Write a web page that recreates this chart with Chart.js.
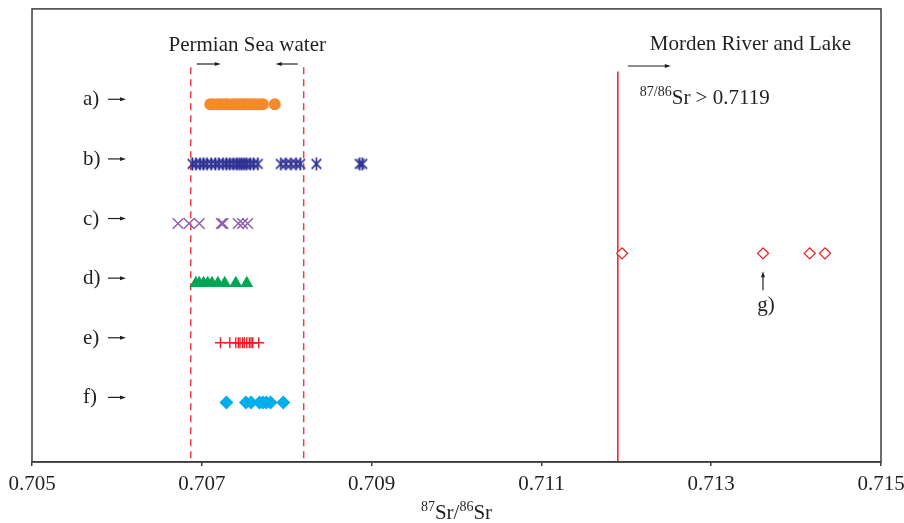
<!DOCTYPE html>
<html>
<head>
<meta charset="utf-8">
<script src="https://cdn.jsdelivr.net/npm/chart.js@4/dist/chart.umd.min.js"></script>
<style>
  html, body { margin: 0; padding: 0; background: #fff; }
  #wrap { width: 904px; height: 523px; }
</style>
</head>
<body>
<div id="wrap"><canvas id="srChart"></canvas></div>
<script>
// 87Sr/86Sr ratios for each sample group
const groupA = [0.70710, 0.70714, 0.70719, 0.70723, 0.70728, 0.70731, 0.70736, 0.70740, 0.70744, 0.70748, 0.70751, 0.70755, 0.70759, 0.70763, 0.70768, 0.70772, 0.70786];
const groupB = [0.70689, 0.70693, 0.70698, 0.70702, 0.70706, 0.70711, 0.70716, 0.70720, 0.70725, 0.70729, 0.70733, 0.70737, 0.70741, 0.70744, 0.70747, 0.70750, 0.70753, 0.70757, 0.70761, 0.70766, 0.70793, 0.70799, 0.70805, 0.70811, 0.70816, 0.70835, 0.70886, 0.70889];
const groupC = [0.70672, 0.70685, 0.70697, 0.70723, 0.70725, 0.70743, 0.70748, 0.70754];
const groupD = [0.70693, 0.70697, 0.70702, 0.70707, 0.70712, 0.70719, 0.70727, 0.70740, 0.70753];
const groupE = [0.70722, 0.70733, 0.70740, 0.70743, 0.70745, 0.70748, 0.70750, 0.70753, 0.70756, 0.70758, 0.70760, 0.70767];
const groupF = [0.70729, 0.70752, 0.70758, 0.70768, 0.70772, 0.70776, 0.70781, 0.70796];
const groupG = [0.71195, 0.71361, 0.71416, 0.71434];

const rowLabels = ["a)", "b)", "c)", "d)", "e)", "f)"];
const rowLevels = [6, 5, 4, 3, 2, 1];
const groupGLevel = 3.5;

const permianLow = 0.70687;
const permianHigh = 0.7082;
const mordenLimit = 0.7119;
const xTicks = [0.705, 0.707, 0.709, 0.711, 0.713, 0.715];

const SERIF = "'Liberation Serif', 'Times New Roman', serif";
Chart.defaults.font.family = SERIF;

// six-armed asterisk used for group b
function asteriskIcon(color, r) {
  const s = Math.ceil(r * 2 + 2);
  const c = document.createElement("canvas");
  c.width = s; c.height = s;
  const g = c.getContext("2d");
  const m = s / 2, d = r * 0.74;
  g.strokeStyle = color;
  g.lineWidth = 1.6;
  g.beginPath();
  g.moveTo(m, m - r); g.lineTo(m, m + r);
  g.moveTo(m - d, m - d); g.lineTo(m + d, m + d);
  g.moveTo(m - d, m + d); g.lineTo(m + d, m - d);
  g.stroke();
  return c;
}

const toPoints = (vals, level) => vals.map(v => ({ x: v, y: level }));

function arrow(ctx, x1, y1, x2, y2) {
  const a = Math.atan2(y2 - y1, x2 - x1);
  ctx.beginPath();
  ctx.moveTo(x1, y1);
  ctx.lineTo(x2 - Math.cos(a) * 4, y2 - Math.sin(a) * 4);
  ctx.stroke();
  ctx.beginPath();
  ctx.moveTo(x2, y2);
  ctx.lineTo(x2 - Math.cos(a) * 6 - Math.sin(a) * 2, y2 - Math.sin(a) * 6 + Math.cos(a) * 2);
  ctx.lineTo(x2 - Math.cos(a) * 6 + Math.sin(a) * 2, y2 - Math.sin(a) * 6 - Math.cos(a) * 2);
  ctx.closePath();
  ctx.fill();
}

// draws "base" text with a leading superscript, returns end x
function supText(ctx, x, y, sup, base) {
  ctx.font = "14px " + SERIF;
  ctx.fillText(sup, x, y - 8);
  x += ctx.measureText(sup).width;
  ctx.font = "21px " + SERIF;
  ctx.fillText(base, x, y);
  return x + ctx.measureText(base).width;
}

const annotations = {
  id: "annotations",
  beforeDatasetsDraw(chart) {
    const { ctx, scales: { x, y }, chartArea } = chart;
    ctx.save();
    ctx.lineWidth = 1.5;
    ctx.strokeStyle = "#e8414e";
    ctx.setLineDash([7, 5]);
    [permianLow, permianHigh].forEach(v => {
      const px = x.getPixelForValue(v);
      ctx.beginPath();
      ctx.moveTo(px, y.getPixelForValue(6.62));
      ctx.lineTo(px, chartArea.bottom);
      ctx.stroke();
    });
    ctx.setLineDash([]);
    ctx.strokeStyle = "#ed1c24";
    const mx = x.getPixelForValue(mordenLimit);
    ctx.beginPath();
    ctx.moveTo(mx, y.getPixelForValue(6.55));
    ctx.lineTo(mx, chartArea.bottom);
    ctx.stroke();
    ctx.restore();
  },
  afterDatasetsDraw(chart) {
    const { ctx, scales: { x, y }, chartArea } = chart;
    ctx.save();
    ctx.fillStyle = "#231f20";
    ctx.strokeStyle = "#231f20";
    ctx.lineWidth = 1.2;
    ctx.textBaseline = "alphabetic";

    // row labels with arrows
    ctx.font = "21px " + SERIF;
    rowLabels.forEach((lab, i) => {
      const py = y.getPixelForValue(rowLevels[i]) - 5;
      ctx.textAlign = "left";
      ctx.fillText(lab, 83, py + 6);
      arrow(ctx, 108, py, 126, py);
    });

    // Permian Sea water range
    const pl = x.getPixelForValue(permianLow), ph = x.getPixelForValue(permianHigh);
    ctx.textAlign = "center";
    ctx.fillText("Permian Sea water", (pl + ph) / 2, 51);
    arrow(ctx, pl + 6, 64, pl + 30, 64);
    arrow(ctx, ph - 6, 64, ph - 28, 64);

    // Morden River and Lake
    const mx = x.getPixelForValue(mordenLimit);
    ctx.textAlign = "left";
    ctx.fillText("Morden River and Lake", mx + 32, 50);
    arrow(ctx, mx + 10, 66, mx + 53, 66);
    supText(ctx, mx + 22, 104, "87/86", "Sr > 0.7119");

    // g) marker
    const gx = x.getPixelForValue(groupG[1]);
    const gy = y.getPixelForValue(groupGLevel);
    arrow(ctx, gx, gy + 37, gx, gy + 18);
    ctx.font = "21px " + SERIF;
    ctx.textAlign = "center";
    ctx.fillText("g)", gx + 3, gy + 58);

    // axis title
    ctx.textAlign = "left";
    const title = "Sr/";
    ctx.font = "14px " + SERIF;
    const w87 = ctx.measureText("87").width, w86 = ctx.measureText("86").width;
    ctx.font = "21px " + SERIF;
    const total = w87 + ctx.measureText(title).width + w86 + ctx.measureText("Sr").width;
    let tx = (chartArea.left + chartArea.right) / 2 - total / 2;
    tx = supText(ctx, tx, 519, "87", title);
    supText(ctx, tx, 519, "86", "Sr");

    // frame
    ctx.strokeStyle = "#3c3c3c";
    ctx.lineWidth = 1.5;
    ctx.strokeRect(chartArea.left, chartArea.top, chartArea.right - chartArea.left, chartArea.bottom - chartArea.top);
    ctx.restore();
  }
};

new Chart(document.getElementById("srChart"), {
  type: "scatter",
  data: {
    datasets: [
      { label: "a", data: toPoints(groupA, rowLevels[0]), pointStyle: "circle", pointRadius: 6, backgroundColor: "#f58a2c", borderColor: "#f58a2c", borderWidth: 0 },
      { label: "b", data: toPoints(groupB, rowLevels[1]), pointStyle: asteriskIcon("#2e3192", 6.5), pointRadius: 6.5 },
      { label: "c", data: toPoints(groupC, rowLevels[2]), pointStyle: "crossRot", pointRadius: 7.5, borderColor: "#8c5cab", borderWidth: 1.4 },
      { label: "d", data: toPoints(groupD, rowLevels[3]), pointStyle: "triangle", pointRadius: 7.5, backgroundColor: "#00a651", borderColor: "#00a651", borderWidth: 0 },
      { label: "e", data: toPoints(groupE, rowLevels[4]), pointStyle: "cross", pointRadius: 5.5, borderColor: "#ed1c24", borderWidth: 1.4 },
      { label: "f", data: toPoints(groupF, rowLevels[5]), pointStyle: "rectRot", pointRadius: 7, backgroundColor: "#00aeef", borderColor: "#00aeef", borderWidth: 0 },
      { label: "g", data: toPoints(groupG, groupGLevel), pointStyle: "rectRot", pointRadius: 5.5, backgroundColor: "#ffffff", borderColor: "#ed1c24", borderWidth: 1.3 }
    ]
  },
  options: {
    responsive: true,
    maintainAspectRatio: false,
    animation: false,
    events: [],
    layout: { padding: { left: 32, right: 23, top: 4, bottom: 0 } },
    plugins: { legend: { display: false }, tooltip: { enabled: false } },
    scales: {
      x: {
        type: "linear",
        min: 0.705,
        max: 0.715,
        afterBuildTicks: s => { s.ticks = xTicks.map(v => ({ value: v })); },
        afterFit: s => { s.height = 61; s.paddingLeft = 0; s.paddingRight = 0; },
        grid: { display: true, drawOnChartArea: false, color: "#3c3c3c", tickLength: 4, lineWidth: 1.5 },
        border: { display: true, color: "#3c3c3c", width: 1.5 },
        ticks: { color: "#231f20", padding: 6, font: { size: 21, family: SERIF }, callback: v => v.toFixed(3) }
      },
      y: {
        type: "linear",
        min: 0,
        max: 7.6,
        display: false
      }
    }
  },
  plugins: [annotations]
});
</script>
</body>
</html>
